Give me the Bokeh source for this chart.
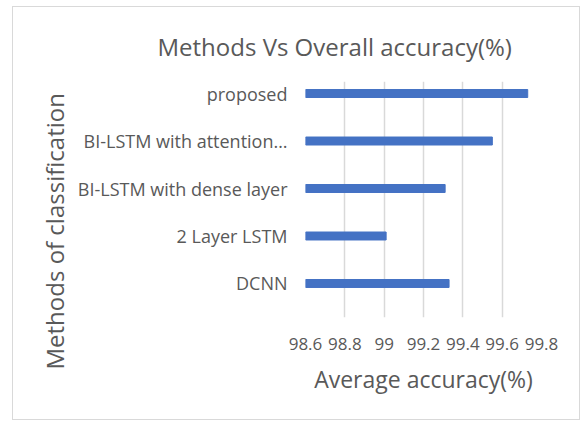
from bokeh.plotting import figure
from bokeh.models import Range1d, FixedTicker, Title
from bokeh.embed import file_html
from bokeh.resources import INLINE

categories = ["DCNN", "2 Layer LSTM", "BI-LSTM with dense layer",
              "BI-LSTM with attention…", "proposed"]
accuracy = [99.33, 99.01, 99.31, 99.55, 99.73]
x_ticks = [98.6, 98.8, 99.0, 99.2, 99.4, 99.6, 99.8]
x_tick_labels = ["98.6", "98.8", "99", "99.2", "99.4", "99.6", "99.8"]
title_text = "Methods Vs Overall accuracy(%)"
x_label = "Average accuracy(%)"
y_label = "Methods of  classification"

FONT = "Open Sans"
GRAY = "#595959"

ypos = list(range(len(categories)))

p = figure(width=568, height=414, output_backend="svg", toolbar_location=None,
           x_range=Range1d(98.6, 99.8), y_range=Range1d(-0.716, 4.253),
           min_border_left=292, min_border_right=40, min_border_top=74,
           min_border_bottom=104)
p.margin = (6, 0, 0, 12)
p.styles = {"border": "1px solid #d9d9d9", "box-sizing": "border-box"}
p.outline_line_color = None
p.background_fill_color = "white"
p.border_fill_color = "white"

p.hbar(y=ypos, right=accuracy, left=98.6, height=0.168,
       fill_color="#4472c4", line_color="#4472c4")

p.xaxis.ticker = FixedTicker(ticks=x_ticks)
p.xaxis.major_label_overrides = {t: l for t, l in zip(x_ticks, x_tick_labels)}
p.yaxis.ticker = FixedTicker(ticks=ypos)
p.yaxis.major_label_overrides = {i: c for i, c in zip(ypos, categories)}

for ax in (p.xaxis, p.yaxis):
    ax.axis_line_color = None
    ax.major_tick_line_color = None
    ax.minor_tick_line_color = None
    ax.major_tick_out = 0
    ax.major_tick_in = 0
    ax.major_label_text_font = FONT
    ax.major_label_text_color = GRAY

p.xaxis.major_label_text_font_size = "17px"
p.yaxis.major_label_text_font_size = "18px"
p.xaxis.major_label_standoff = 20
p.yaxis.major_label_standoff = 18
p.xaxis.axis_label = x_label
p.xaxis.axis_label_text_font = FONT
p.xaxis.axis_label_text_font_style = "normal"
p.xaxis.axis_label_text_font_size = "23px"
p.xaxis.axis_label_text_color = GRAY
p.xaxis.axis_label_standoff = 10

p.xgrid.ticker = FixedTicker(ticks=x_ticks)
p.xgrid.grid_line_color = "#d9d9d9"
p.xgrid.grid_line_width = 1.5
p.ygrid.grid_line_color = None

p.title = Title(text=title_text, align="left", offset=-148, standoff=38,
                text_font=FONT, text_font_size="24px", text_font_style="normal",
                text_color=GRAY)
p.add_layout(Title(text=y_label, align="left", offset=-52, standoff=8,
                   text_font=FONT, text_font_size="24px", text_font_style="normal",
                   text_color=GRAY), "left")

open("out.html", "w").write(file_html(p, INLINE))
